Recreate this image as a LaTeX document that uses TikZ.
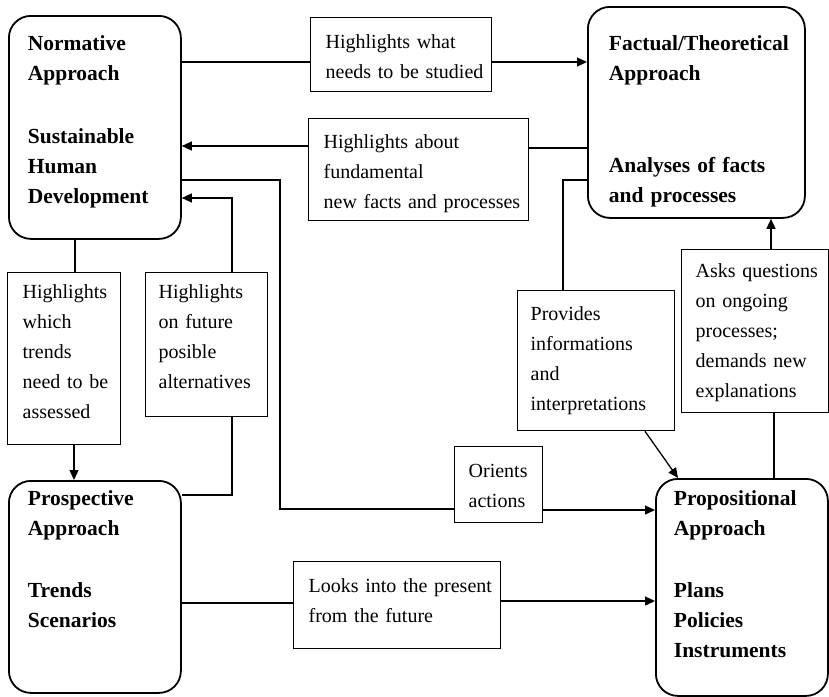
\documentclass[tikz,border=0pt]{standalone}
\usepackage{fontspec}
\setmainfont{Liberation Serif}
\usetikzlibrary{arrows.meta}
\begin{document}
\begin{tikzpicture}[x=1pt,y=-1pt,
  box/.style={draw, line width=1.3pt, inner sep=0pt, anchor=north west, align=left,
    font=\fontsize{20}{30}\selectfont},
  rbox/.style={draw, line width=1.8pt, rounded corners=22pt, inner sep=0pt, anchor=north west,
    align=left, font=\fontsize{21.5}{30}\selectfont\bfseries},
  link/.style={line width=1.3pt},
  arr/.style={link, -{Triangle[length=10pt,width=9pt]}}]
\useasboundingbox (0,0) rectangle (829,696);

% main rounded boxes
\node[rbox, text width=172pt, text height=35pt, text depth=188pt] (N) at (8,15)
  {\leftskip=19pt Normative\\Approach\\[33pt]Sustainable\\Human\\Development\par};
\node[rbox, text width=217pt, text height=44pt, text depth=167pt] (F) at (587,6)
  {\leftskip=21pt Factual/Theoretical\\Approach\\[62pt]Analyses of facts\\and processes\par};
\node[rbox, text width=172pt, text height=25pt, text depth=187pt] (Pr) at (8,480)
  {\leftskip=19pt Prospective\\Approach\\[32pt]Trends\\Scenarios\par};
\node[rbox, text width=172pt, text height=27pt, text depth=190pt] (P) at (655,478)
  {\leftskip=18pt Propositional\\Approach\\[32pt]Plans\\Policies\\Instruments\par};

% label boxes
\node[box, text width=181pt, text height=31pt, text depth=43pt] (H1) at (310,17)
  {\leftskip=15pt Highlights what\\needs to be studied\par};
\node[box, text width=220pt, text height=30pt, text depth=72pt] (H2) at (308,118)
  {\leftskip=15pt Highlights about\\fundamental\\new facts and processes\par};
\node[box, text width=113pt, text height=26pt, text depth=146pt] (H3) at (7,272)
  {\leftskip=15pt Highlights\\which\\trends\\need to be\\assessed\par};
\node[box, text width=122pt, text height=26pt, text depth=118pt] (H4) at (145,272)
  {\leftskip=13pt Highlights\\on future\\posible\\alternatives\par};
\node[box, text width=157pt, text height=30pt, text depth=110pt] (Pv) at (517,290)
  {\leftskip=13pt Provides\\informations\\and\\interpretations\par};
\node[box, text width=147pt, text height=28pt, text depth=135pt] (Ak) at (681,249)
  {\leftskip=14pt Asks questions\\on ongoing\\processes;\\demands new\\explanations\par};
\node[box, text width=88pt, text height=31pt, text depth=45pt] (Or) at (454,446)
  {\leftskip=14pt Orients\\actions\par};
\node[box, text width=207pt, text height=31pt, text depth=56pt] (Lk) at (293,561)
  {\leftskip=15pt Looks into the present\\from the future\par};

% connectors
\draw[link] (N.east |- 0,62) -- (H1.west |- 0,62);
\draw[arr] (H1.east |- 0,62) -- (F.west |- 0,62);
\draw[link] (F.west |- 0,148) -- (H2.east |- 0,148);
\draw[arr] (H2.west |- 0,146) -- (N.east |- 0,146);
\draw[link] (N.east |- 0,180) -| (280,509) -- (Or.west |- 0,509);
\draw[arr] (Or.east |- 0,510) -- (P.west |- 0,510);
\draw[link] (Pr.east |- 0,495) -| (H4.south -| 232,0);
\draw[arr] (H4.north -| 232,0) |- (N.east |- 0,198);
\draw[link] (N.south -| 75,0) -- (H3.north -| 75,0);
\draw[arr] (H3.south -| 74,0) -- (Pr.north -| 74,0);
\draw[link] (Pr.east |- 0,603) -- (Lk.west |- 0,603);
\draw[arr] (Lk.east |- 0,601) -- (P.west |- 0,601);
\draw[link] (F.west |- 0,180) -| (Pv.north -| 563,0);
\draw[arr] (Pv.south -| 645,0) -- (P.north -| 678,0);
\draw[link] (P.north -| 774,0) -- (Ak.south -| 774,0);
\draw[arr] (Ak.north -| 771,0) -- (F.south -| 771,0);
\end{tikzpicture}
\end{document}
